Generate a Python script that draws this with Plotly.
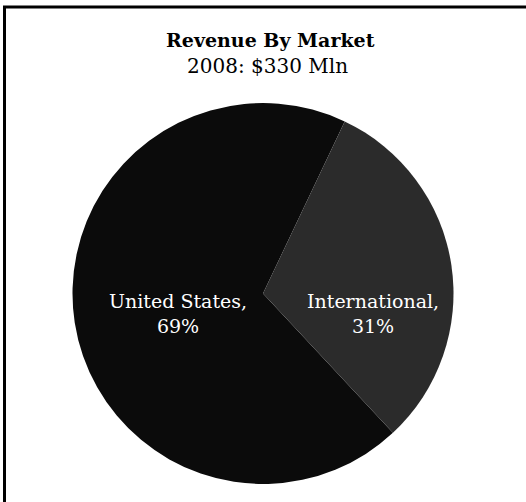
import plotly.graph_objects as go

# Revenue split by market, 2008 (percent of total)
markets = ["United States", "International"]
shares = [69, 31]
slice_colors = ["#0b0b0b", "#2b2b2b"]

title_text = "Revenue By Market"
subtitle_text = "2008: $330 Mln"

W, H = 526, 502
serif = "DejaVu Serif"

fig = go.Figure()
fig.add_trace(go.Pie(
    labels=markets,
    values=shares,
    sort=False,
    direction="clockwise",
    rotation=137,
    marker=dict(colors=slice_colors, line=dict(width=0)),
    textinfo="none",
    hoverinfo="label+percent",
    showlegend=False,
    domain=dict(x=[72 / W, 454 / W], y=[18 / H, 399 / H]),
))

# slice labels, centred inside each wedge
total = sum(shares)
label_pos = {"United States": (178, 313), "International": (373, 313)}
for name, val in zip(markets, shares):
    px, py = label_pos[name]
    fig.add_annotation(
        x=px / W, y=1 - py / H, xref="paper", yref="paper",
        xanchor="center", yanchor="middle",
        text=f"{name},<br>{round(100 * val / total)}%",
        showarrow=False, align="center",
        font=dict(family=serif, size=19, color="white"),
    )

fig.add_annotation(
    x=270 / W, y=1 - 40 / H, xref="paper", yref="paper",
    xanchor="center", yanchor="middle",
    text=f"<b>{title_text}</b>", showarrow=False,
    font=dict(family=serif, size=19, color="black"),
)
fig.add_annotation(
    x=267 / W, y=1 - 66 / H, xref="paper", yref="paper",
    xanchor="center", yanchor="middle",
    text=subtitle_text, showarrow=False,
    font=dict(family=serif, size=20, color="black"),
)

# frame lines on the left and top edges
fig.add_shape(type="line", xref="paper", yref="paper",
              x0=4.5 / W, x1=4.5 / W, y0=0, y1=1 - 7 / H,
              line=dict(color="black", width=3))
fig.add_shape(type="line", xref="paper", yref="paper",
              x0=3 / W, x1=1, y0=1 - 7 / H, y1=1 - 7 / H,
              line=dict(color="black", width=3))

fig.update_layout(
    width=W, height=H,
    margin=dict(l=0, r=0, t=0, b=0),
    paper_bgcolor="white",
    plot_bgcolor="white",
)

fig.write_html("out.html")
